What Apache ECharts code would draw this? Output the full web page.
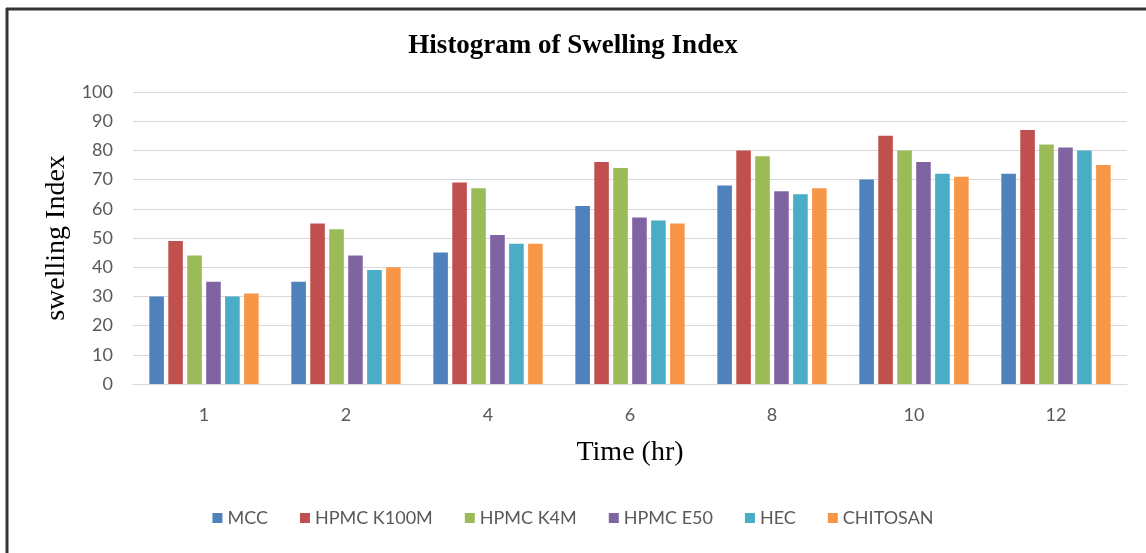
<!DOCTYPE html>
<html>
<head>
<meta charset="utf-8">
<script src="https://cdn.jsdelivr.net/npm/echarts@6/dist/echarts.min.js"></script>
<style>
html,body{margin:0;padding:0;background:#fff;}
#c{width:1146px;height:553px;}
</style>
</head>
<body>
<div id="c"></div>
<script>
const categories = ['1', '2', '4', '6', '8', '10', '12'];
const seriesNames = ['MCC', 'HPMC K100M', 'HPMC K4M', 'HPMC E50', 'HEC', 'CHITOSAN'];
const mcc       = [30, 35, 45, 61, 68, 70, 72];
const hpmcK100M = [49, 55, 69, 76, 80, 85, 87];
const hpmcK4M   = [44, 53, 67, 74, 78, 80, 82];
const hpmcE50   = [35, 44, 51, 57, 66, 76, 81];
const hec       = [30, 39, 48, 56, 65, 72, 80];
const chitosan  = [31, 40, 48, 55, 67, 71, 75];
const yTicks = [0, 10, 20, 30, 40, 50, 60, 70, 80, 90, 100];

const seriesData = [mcc, hpmcK100M, hpmcK4M, hpmcE50, hec, chitosan];
const colors = ['#4F81BD', '#C0504D', '#9BBB59', '#8064A2', '#4BACC6', '#F79646'];

const chart = echarts.init(document.getElementById('c'));
chart.setOption({
  animation: false,
  color: colors,
  title: {
    text: 'Histogram of Swelling Index',
    left: 'center',
    top: 28,
    textStyle: {fontFamily: 'Liberation Serif', fontWeight: 'bold', fontSize: 27, color: '#000'}
  },
  graphic: [
    {type: 'line', shape: {x1: 6, y1: 9, x2: 1146, y2: 9}, style: {stroke: '#333', lineWidth: 3}},
    {type: 'line', shape: {x1: 7, y1: 8, x2: 7, y2: 553}, style: {stroke: '#333', lineWidth: 3}}
  ],
  legend: {
    data: seriesNames,
    bottom: 21,
    left: 'center',
    icon: 'rect',
    itemWidth: 10,
    itemHeight: 10,
    itemGap: 32,
    textStyle: {fontFamily: 'Lato', fontSize: 18, color: '#595959'}
  },
  grid: {left: 133, right: 19, top: 92, bottom: 169},
  xAxis: {
    type: 'category',
    data: categories,
    name: 'Time (hr)',
    nameLocation: 'middle',
    nameGap: 55,
    nameTextStyle: {fontFamily: 'Liberation Serif', fontSize: 28, color: '#000'},
    axisTick: {show: false},
    axisLine: {lineStyle: {color: '#d9d9d9'}},
    axisLabel: {fontFamily: 'Lato', fontSize: 18, color: '#595959', margin: 22}
  },
  yAxis: {
    type: 'value',
    min: yTicks[0],
    max: yTicks[yTicks.length - 1],
    interval: 10,
    name: 'swelling Index',
    nameLocation: 'middle',
    nameGap: 62,
    nameRotate: 90,
    nameTextStyle: {fontFamily: 'Liberation Serif', fontSize: 28, color: '#000'},
    axisLine: {show: false},
    axisTick: {show: false},
    splitLine: {lineStyle: {color: '#d9d9d9'}},
    axisLabel: {fontFamily: 'Lato', fontSize: 18, color: '#595959', margin: 20}
  },
  series: seriesNames.map((n, i) => ({
    name: n,
    type: 'bar',
    data: seriesData[i],
    barGap: '30%',
    barCategoryGap: '23%',
    itemStyle: {color: colors[i]}
  }))
});
</script>
</body>
</html>
